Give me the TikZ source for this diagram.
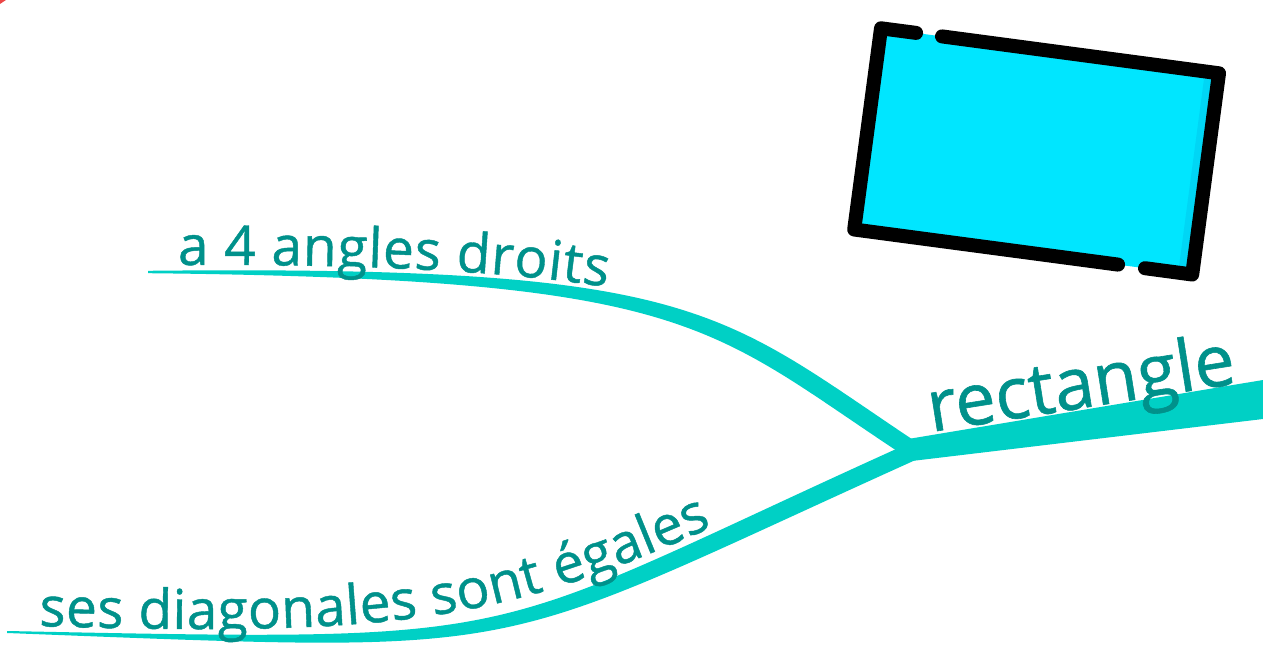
\documentclass[tikz,border=0pt]{standalone}
\usepackage{fontspec}
\setmainfont{Open Sans}
\newfontfamily\labelfont{Open Sans}[FakeBold=0.8]
\usetikzlibrary{decorations.text,calc}
\definecolor{txt}{RGB}{0,145,139}
\definecolor{br}{RGB}{0,208,197}
\definecolor{rfill}{RGB}{0,230,255}
\definecolor{rstrip}{RGB}{0,214,245}
\definecolor{redmark}{RGB}{235,70,70}
\begin{document}
\begin{tikzpicture}[x=1pt,y=-1pt,
  branch/.style={fill=br},
  border/.style={draw=black, line width=14pt, line cap=round, line join=round},
  curvetext/.style={decorate, decoration={text along path, text color=txt,
     text align={fit to path}, text={|\labelfont\fontsize{55}{62}\selectfont|#1}}}]
\useasboundingbox (0,0) rectangle (1263,669);
\fill[white] (0,0) rectangle (1263,669);
\fill[redmark] (0,0) -- (6,0) -- (0,4) -- cycle;

% hub of the map
\coordinate (hub) at (920,449);

% main branch
\fill[branch] (905,439.5) -- (1263,380) -- (1263,419) -- (905,461.8) -- cycle;
% upper sub-branch
\fill[branch] (148,270.8) .. controls (700,265) and (717.5,309.7) .. (917,442.5)
   -- (hub) -- (907,457.5) .. controls (706.5,326.4) and (700,279) .. (148,273.2) -- cycle;
% lower sub-branch
\fill[branch] (7,631) .. controls (553,642) and (468.3,641.8) .. (914.3,440.8)
   -- (hub) -- (921.7,457.2) .. controls (475.7,658.2) and (553,654) .. (7,633) -- cycle;

% labels
\node[anchor=base west, rotate=9, inner sep=0, text=txt,
      font=\labelfont\fontsize{72}{80}\selectfont] (main) at (931,432) {rectangle};
\path[curvetext={a 4 angles droits}] (178,265) .. controls (350,264) and (500,270) .. (607,287);
\path[curvetext={ses diagonales sont égales}] (39,626) .. controls (394,637) and (502,621) .. (712,527);

% rectangle picture
\coordinate (TL) at (881.0,28.3);
\coordinate (TR) at (1219.0,73.3);
\coordinate (BR) at (1192.2,274.5);
\coordinate (BL) at (854.2,229.5);
\fill[rfill] (TL) -- (TR) -- (BR) -- (BL) -- cycle;
\fill[rstrip] ($(TR)+(-14,-1.9)$) -- (TR) -- (BR) -- ($(BR)+(-14,-1.9)$) -- cycle;
\draw[border] (942.0,36.4) -- (TR) -- (BR) -- (1145.0,268.2);
\draw[border] (1118.1,264.6) -- (BL) -- (TL) -- (916.1,32.9);
\end{tikzpicture}
\end{document}
